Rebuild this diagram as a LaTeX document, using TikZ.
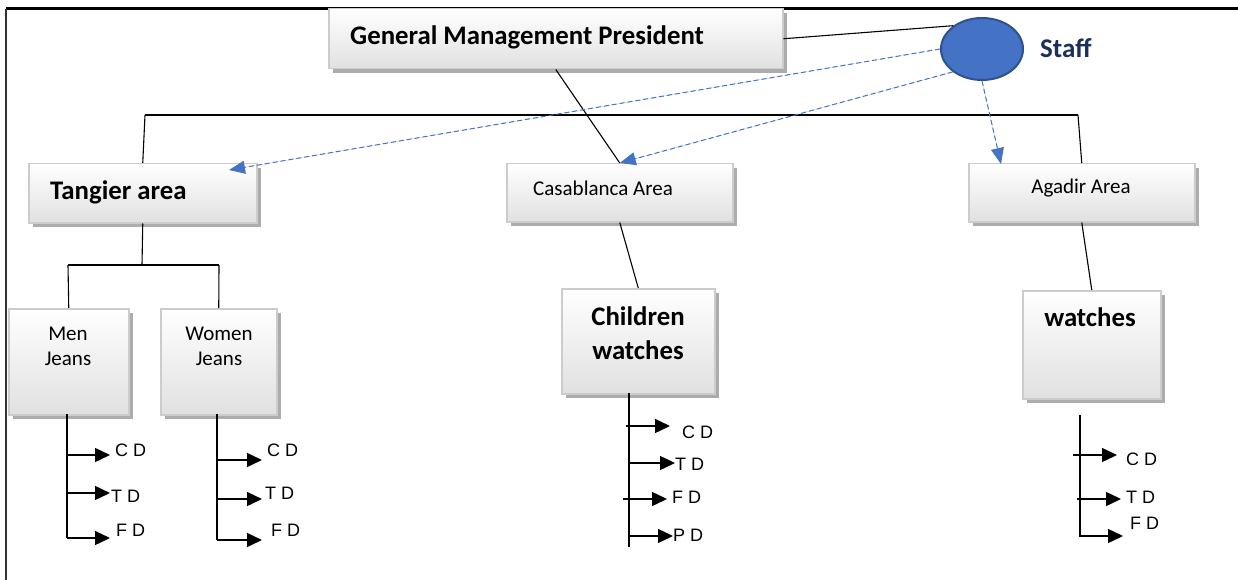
\documentclass[tikz,border=0pt]{standalone}
\usepackage{fontspec}
\setmainfont{Carlito}
\newfontfamily\arialf{Liberation Sans}
\usetikzlibrary{shapes.geometric,shadows,arrows.meta}
\definecolor{staffblue}{HTML}{4472C4}
\definecolor{staffedge}{HTML}{2F528F}
\definecolor{stafftext}{HTML}{1A2F5A}
\tikzset{
  box/.style={draw=gray!40, line width=1.5pt, top color=white, bottom color=gray!24,
    drop shadow={shadow xshift=4pt, shadow yshift=-4pt, fill=gray!65, opacity=1},
    anchor=north west, inner sep=0pt},
  ln/.style={line width=1.1pt, black},
  cd/.style={-{Triangle[length=15pt,width=14pt]}, line width=1.4pt},
  dsh/.style={draw=staffblue, fill=staffblue, dash pattern=on 5pt off 3pt, line width=1pt,
    -{Triangle[length=16pt,width=13pt]}},
  bigb/.style={font=\fontsize{26.8}{34}\selectfont\bfseries, inner sep=0pt},
  reg/.style={font=\fontsize{21}{25}\selectfont, inner sep=0pt},
  lab/.style={font=\arialf\fontsize{18}{20}\selectfont, inner sep=0pt, anchor=west},
}
\begin{document}
\begin{tikzpicture}[x=1pt,y=-1pt]
\useasboundingbox (0,0) rectangle (1238,580);
% frame
\draw[line width=3pt] (6,9) -- (1238,9);
\draw[line width=2pt, black!80] (6,9) -- (6,580);

% boxes
\node[box, minimum width=454pt, minimum height=60pt] (gmp) at (328,8) {};
\node[box, minimum width=228pt, minimum height=59pt] (tang) at (28,163) {};
\node[box, minimum width=226pt, minimum height=58pt] (casa) at (506,163) {};
\node[box, minimum width=226pt, minimum height=58pt] (agad) at (968,163) {};
\node[box, minimum width=120pt, minimum height=106pt] (men) at (8,308) {};
\node[box, minimum width=116pt, minimum height=106pt] (women) at (160,308) {};
\node[box, minimum width=153pt, minimum height=105pt] (child) at (561,288) {};
\node[box, minimum width=138pt, minimum height=108pt] (watch) at (1022,290) {};

% texts
\node[bigb, anchor=west] (gmpt) at (350,37) {General Management President};
\node[bigb, anchor=west] (tangt) at (50,192) {Tangier area};
\node[reg, anchor=west] (casat) at (533,188) {Casablanca Area};
\node[reg] (agadt) at (1081,188) {Agadir Area};
\node[reg, align=center] (ment) at (68,346.5) {Men\\Jeans};
\node[reg, align=center] (woment) at (219,346.5) {Women\\Jeans};
\node[bigb, align=center] (childt) at (638,333) {Children\\watches};
\node[bigb] (watcht) at (1090,317) {watches};

% staff
\node[ellipse, draw=staffedge, line width=2pt, fill=staffblue, minimum width=82pt, minimum height=62pt, inner sep=0pt] (staff) at (982,49) {};
\node[font=\fontsize{27}{30}\selectfont\bfseries, text=stafftext, anchor=west, inner sep=0pt] (stafft) at (1040,48) {Staff};

% hierarchy lines
\coordinate (busl) at (145,115);
\coordinate (busr) at (1078,115);
\draw[ln] (busl) -- (busr);
\draw[ln] (busl) -- (tang.north);
\draw[ln] (busr) -- (agad.north);
\draw[ln] (gmp.east) -- (staff.141);
\draw[ln] (gmp.south) -- (casa.north);
\coordinate (tb) at (142,265);
\coordinate (bl) at (68,265);
\coordinate (br) at (219,265);
\draw[ln] (tang.south) -- (tb);
\draw[ln] (bl) -- (br);
\draw[ln] (bl) -- (men.north);
\draw[ln] (br) -- (women.north);
\draw[ln] (casa.south) -- (child.north);
\draw[ln] (agad.south) -- (watch.north);

% staff dashed arrows
\coordinate (tangtip) at (229,170);
\coordinate (agadtip) at (1001,164);
\draw[dsh] (staff.180) -- (tangtip);
\draw[dsh] (staff.218) -- (casa.north);
\draw[dsh] (staff.270) -- (agadtip);

% Men stack
\coordinate (m0) at (67,414); \coordinate (m3) at (67,538);
\draw[line width=1.4pt] (m0) -- (m3);
\coordinate (m1a) at (67,455); \coordinate (m1b) at (110,455);
\coordinate (m2a) at (67,493); \coordinate (m2b) at (110,493);
\coordinate (m3b) at (110,538);
\draw[cd] (m1a) -- (m1b); \draw[cd] (m2a) -- (m2b); \draw[cd] (m3) -- (m3b);
\node[lab] (mcd) at (115,450) {C D};
\node[lab] (mtd) at (111,496) {T D};
\node[lab] (mfd) at (116,530) {F D};

% Women stack
\coordinate (w0) at (217,414); \coordinate (w3) at (217,540);
\draw[line width=1.4pt] (w0) -- (w3);
\coordinate (w1a) at (217,460); \coordinate (w1b) at (262,460);
\coordinate (w2a) at (217,499); \coordinate (w2b) at (262,499);
\coordinate (w3b) at (262,540);
\draw[cd] (w1a) -- (w1b); \draw[cd] (w2a) -- (w2b); \draw[cd] (w3) -- (w3b);
\node[lab] (wcd) at (267,450) {C D};
\node[lab] (wtd) at (265,493) {T D};
\node[lab] (wfd) at (271,530) {F D};

% Children stack
\coordinate (c0) at (629,393); \coordinate (c5) at (629,547);
\draw[line width=1.4pt] (c0) -- (c5);
\coordinate (c1a) at (626,426); \coordinate (c1b) at (670,426);
\coordinate (c2a) at (629,463); \coordinate (c2b) at (675,463);
\coordinate (c3a) at (623,499); \coordinate (c3b) at (667,499);
\coordinate (c4a) at (629,536); \coordinate (c4b) at (673,536);
\draw[cd] (c1a) -- (c1b); \draw[cd] (c2a) -- (c2b); \draw[cd] (c3a) -- (c3b); \draw[cd] (c4a) -- (c4b);
\node[lab] (ccd) at (682,432) {C D};
\node[lab] (ctd) at (675,464) {T D};
\node[lab] (cfd) at (672,497) {F D};
\node[lab] (cpd) at (673,535) {P D};

% Agadir stack
\coordinate (a0) at (1080,415); \coordinate (a3) at (1080,537);
\draw[line width=1.4pt] (a0) -- (a3);
\coordinate (a1a) at (1073,455); \coordinate (a1b) at (1117,455);
\coordinate (a2a) at (1077,499); \coordinate (a2b) at (1121,499);
\coordinate (a3b) at (1123,536);
\draw[cd] (a1a) -- (a1b); \draw[cd] (a2a) -- (a2b); \draw[cd] (1080,536) -- (a3b);
\node[lab] (acd) at (1126,459) {C D};
\node[lab] (atd) at (1126,497) {T D};
\node[lab] (afd) at (1130,523) {F D};
\end{tikzpicture}
\end{document}
